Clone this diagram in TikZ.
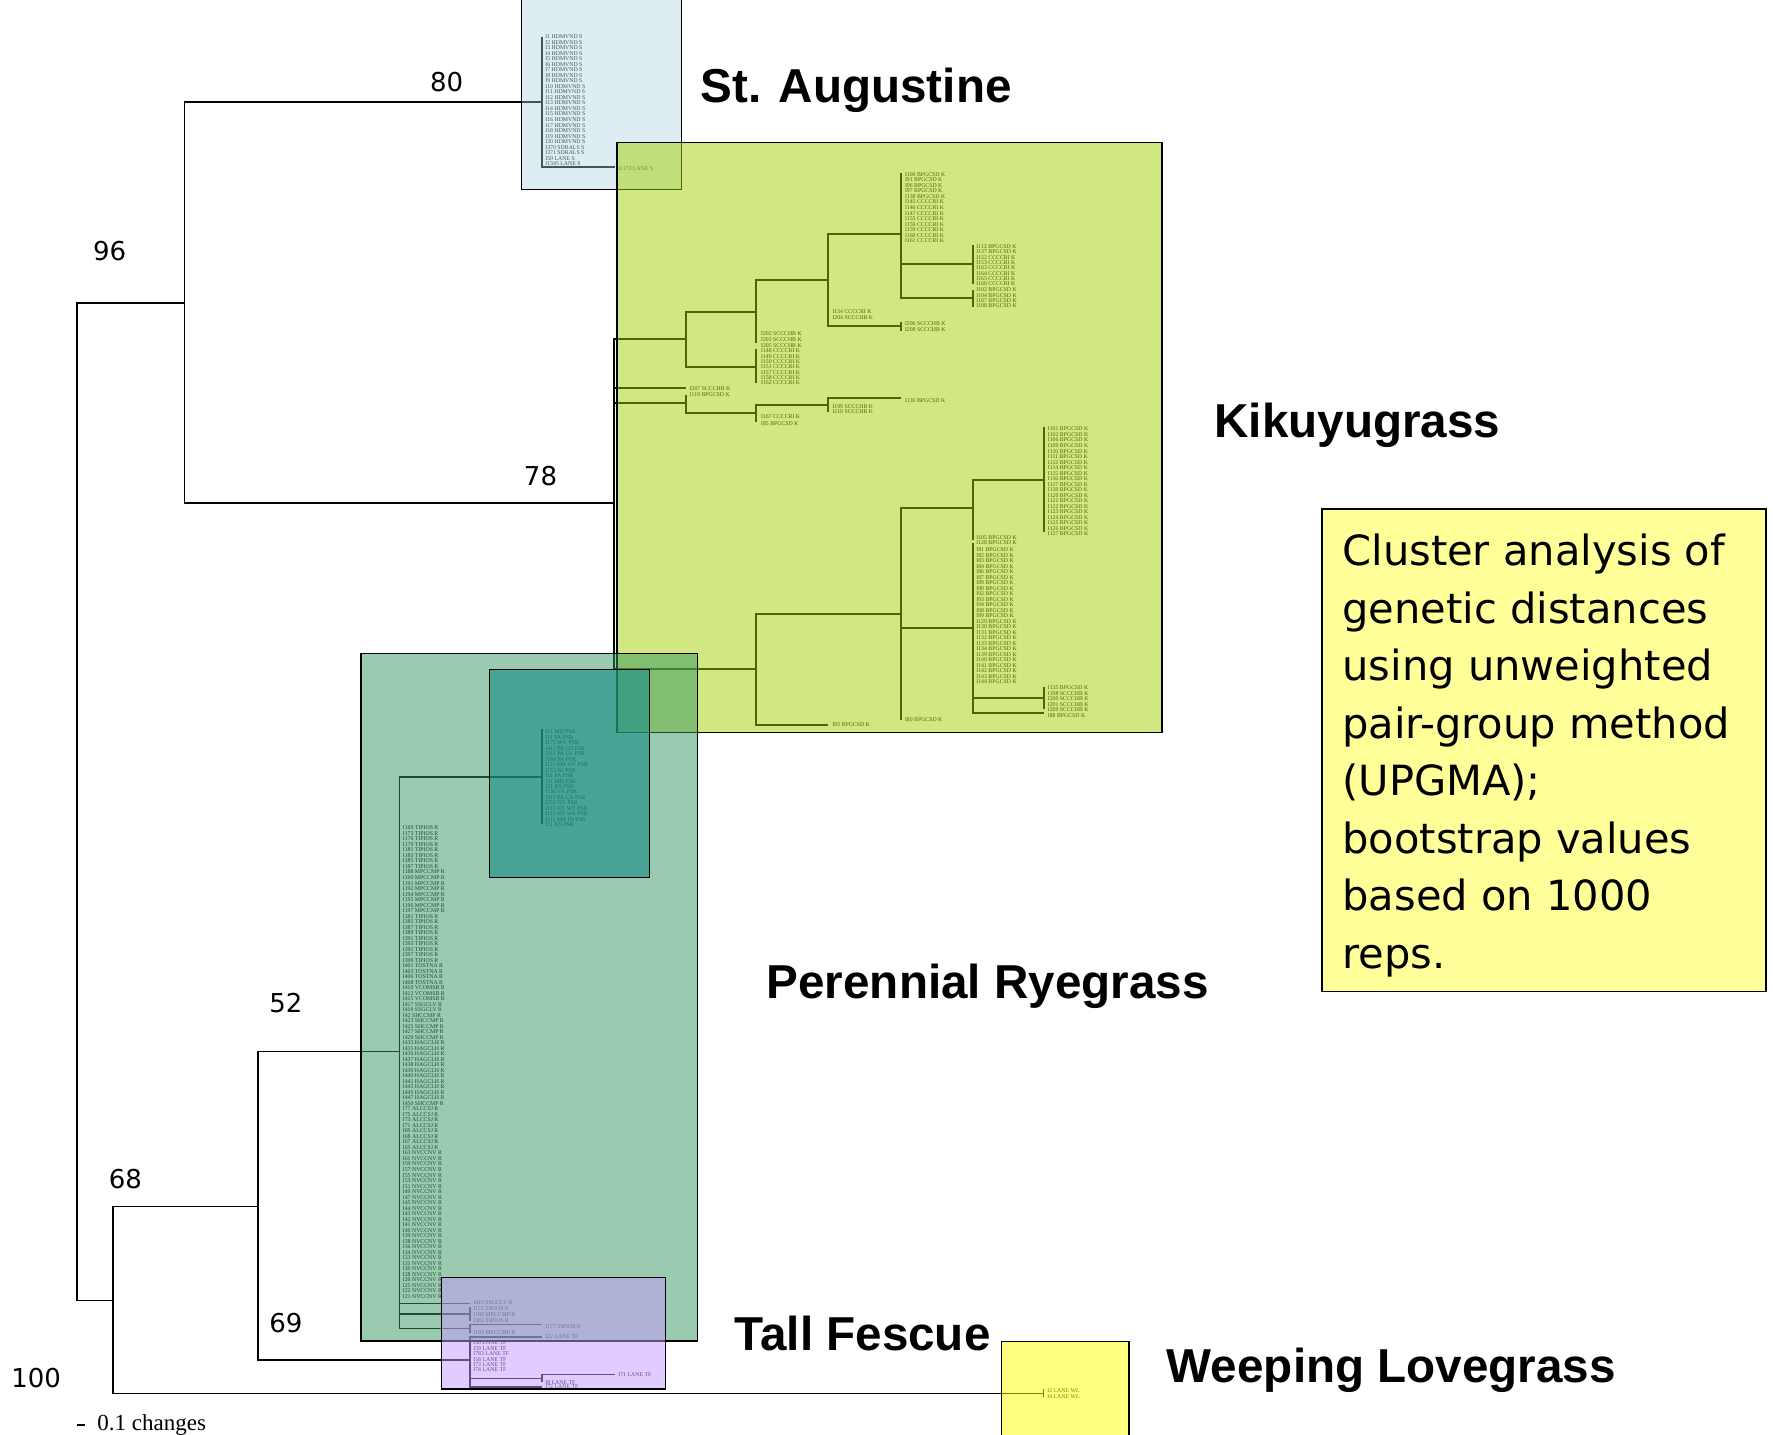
\documentclass[tikz,border=0pt]{standalone}
\usepackage{fontspec}
\setmainfont{Liberation Serif}
\newfontfamily\bootfont{DejaVu Sans}
\newfontfamily\cladefont{Liberation Sans}
\usetikzlibrary{positioning}
\definecolor{AugBlue}{RGB}{170,210,220}
\definecolor{KikuGreen}{RGB}{163,210,0}
\definecolor{RyeGreen}{RGB}{55,151,97}
\definecolor{PsrTeal}{RGB}{22,140,133}
\definecolor{FescueLilac}{RGB}{195,155,255}
\definecolor{LoveYellow}{RGB}{255,255,0}
\definecolor{NoteYellow}{RGB}{255,255,153}
\tikzset{
  branch/.style={line width=0.8pt},
  kbranch/.style={line width=1pt},
  leaf/.style={anchor=west,inner sep=0pt,font=\fontsize{2.9}{2.9}\selectfont},
  boot/.style={font=\bootfont\fontsize{13}{15}\selectfont},
  clade/.style={font=\cladefont\bfseries\fontsize{23.8}{28}\selectfont},
  groupbox/.style={draw=black,line width=0.75pt},
}
\newcommand{\leafcol}[5]{\foreach \lab [count=\i from 0] in {#5} \node[leaf] (#1\i) at (#2,{#3+\i*#4}) {\lab};}

\begin{document}
\begin{tikzpicture}[x=0.5pt,y=-0.5pt]
      \useasboundingbox (0,0) rectangle (1773,1435);
      \fill[white] (0,0) rectangle (1773,1435);
      \draw[branch] (184.3,303) -| (76.9,1300.3) -- (113.1,1300.3);
      \draw[branch] (541.7,101.7) -| (184.3,503) -- (614.3,503);
      \draw[branch] (257.8,1206.5) -| (113.1,1393.3) -- (1043.3,1393.3);
      \draw[branch] (399.3,1051.3) -| (257.8,1360) -- (470,1360);
      \draw[branch] (541.7,36.7) -- (541.7,166.7) -- (615,166.7);
      \leafcol{sa}{545}{36.7}{5.53}{I1 HDMVND S, I2 HDMVND S, I3 HDMVND S, I4 HDMVND S, I5 HDMVND S, I6 HDMVND S, I7 HDMVND S, I8 HDMVND S, I9 HDMVND S, I10 HDMVND S, I11 HDMVND S, I12 HDMVND S, I13 HDMVND S, I14 HDMVND S, I15 HDMVND S, I16 HDMVND S, I17 HDMVND S, I18 HDMVND S, I19 HDMVND S, I20 HDMVND S, I370 SDRALS S, I371 SDRALS S, I50 LANE S, I1345 LANE S}
      \node[leaf] (sa24) at (618,168.3) {I1173 LANE S};
      \draw[kbranch] (685.7,339.3) -| (614.3,669) -- (756.4,669);
      \draw[kbranch] (614.3,388.3) -- (685.7,388.3);
      \draw[kbranch] (614.3,402.7) -- (685.7,402.7);
      \draw[kbranch] (685.7,395) -- (685.7,412.7) -- (756.4,412.7);
      \draw[kbranch] (756.4,311.7) -| (685.7,367.3) -- (756.4,367.3);
      \draw[kbranch] (827.9,280) -| (756.4,343.3);
      \draw[kbranch] (756.4,349) -- (756.4,383);
      \draw[kbranch] (901.1,234.3) -| (827.9,325.7) -- (901.1,325.7);
      \draw[kbranch] (901.1,322) -- (901.1,331);
      \draw[kbranch] (901.1,173.3) -- (901.1,297.7) -- (972.5,297.7);
      \draw[kbranch] (901.1,264.3) -- (972.5,264.3);
      \draw[kbranch] (972.5,245) -- (972.5,284);
      \draw[kbranch] (972.5,290) -- (972.5,306.7);
      \draw[kbranch] (827.9,405) -| (756.4,422);
      \draw[kbranch] (901.1,398.3) -| (827.9,411.7);
      \leafcol{ka}{904.6}{174.3}{5.56}{I100 BPGCSD K, I91 BPGCSD K, I96 BPGCSD K, I97 BPGCSD K, I138 BPGCSD K, I145 CCCCRI K, I146 CCCCRI K, I147 CCCCRI K, I155 CCCCRI K, I156 CCCCRI K, I159 CCCCRI K, I160 CCCCRI K, I161 CCCCRI K}
      \leafcol{kb}{976}{246.7}{5.33}{I113 BPGCSD K, I137 BPGCSD K, I152 CCCCRI K, I153 CCCCRI K, I163 CCCCRI K, I164 CCCCRI K, I165 CCCCRI K, I166 CCCCRI K}
      \leafcol{kc}{976}{290}{5.2}{I102 BPGCSD K, I104 BPGCSD K, I107 BPGCSD K, I108 BPGCSD K}
      \leafcol{kd}{760.7}{334}{6}{I202 SCCCHB K, I203 SCCCHB K, I205 SCCCHB K}
      \leafcol{ke}{760.7}{351}{5.28}{I148 CCCCRI K, I149 CCCCRI K, I150 CCCCRI K, I151 CCCCRI K, I157 CCCCRI K, I158 CCCCRI K, I162 CCCCRI K}
      \leafcol{kf}{832.1}{312}{6}{I154 CCCCRI K, I204 SCCCHB K}
      \leafcol{kg}{904.6}{324}{6}{I206 SCCCHB K, I208 SCCCHB K}
      \leafcol{kh}{689.3}{388.3}{6.7}{I207 SCCCHB K, I119 BPGCSD K}
      \node[leaf] (ki) at (904.6,401) {I136 BPGCSD K};
      \leafcol{kj}{832.1}{406.7}{5}{I199 SCCCHB K, I210 SCCCHB K}
      \leafcol{kk}{760.7}{416.7}{6.6}{I167 CCCCRI K, I85 BPGCSD K}
      \draw[kbranch] (901.1,614.3) -| (756.4,725) -- (827.9,725);
      \draw[kbranch] (972.5,507.7) -| (901.1,720);
      \draw[kbranch] (901.1,628.3) -- (972.5,628.3);
      \draw[kbranch] (1043.9,480) -| (972.5,540);
      \draw[kbranch] (1043.9,426.7) -- (1043.9,531.7);
      \draw[kbranch] (972.5,543) -- (972.5,713.3) -- (1043.9,713.3);
      \draw[kbranch] (972.5,697.7) -- (1043.9,697.7);
      \draw[kbranch] (1043.9,686.7) -- (1043.9,708.7);
      \leafcol{la}{1047.5}{429}{5.53}{I101 BPGCSD K, I102 BPGCSD K, I106 BPGCSD K, I109 BPGCSD K, I110 BPGCSD K, I111 BPGCSD K, I112 BPGCSD K, I114 BPGCSD K, I115 BPGCSD K, I116 BPGCSD K, I117 BPGCSD K, I118 BPGCSD K, I120 BPGCSD K, I121 BPGCSD K, I122 BPGCSD K, I123 BPGCSD K, I124 BPGCSD K, I125 BPGCSD K, I126 BPGCSD K, I127 BPGCSD K}
      \leafcol{lb}{976}{537.7}{5.3}{I105 BPGCSD K, I128 BPGCSD K}
      \leafcol{lc}{976}{550}{5.49}{I81 BPGCSD K, I82 BPGCSD K, I83 BPGCSD K, I84 BPGCSD K, I86 BPGCSD K, I87 BPGCSD K, I89 BPGCSD K, I90 BPGCSD K, I92 BPGCSD K, I93 BPGCSD K, I94 BPGCSD K, I98 BPGCSD K, I99 BPGCSD K, I129 BPGCSD K, I130 BPGCSD K, I131 BPGCSD K, I132 BPGCSD K, I133 BPGCSD K, I134 BPGCSD K, I139 BPGCSD K, I140 BPGCSD K, I141 BPGCSD K, I142 BPGCSD K, I143 BPGCSD K, I144 BPGCSD K}
      \leafcol{ld}{1047.5}{688}{5.5}{I135 BPGCSD K, I198 SCCCHB K, I200 SCCCHB K, I201 SCCCHB K, I209 SCCCHB K}
      \node[leaf] (le) at (1047.5,715.7) {I88 BPGCSD K};
      \node[leaf] (lf) at (904.6,720) {I80 BPGCSD K};
      \node[leaf] (lg) at (832.1,725) {I95 BPGCSD K};
      \draw[branch] (541.7,776.7) -| (399.3,1328.3) -- (470,1328.3);
      \draw[branch] (541.7,729) -- (541.7,824);
      \draw[branch] (399.3,1303.3) -- (470,1303.3);
      \draw[branch] (399.3,1314) -- (470,1314);
      \draw[branch] (470,1307) -- (470,1321);
      \draw[branch] (541.7,1324.3) -| (470,1333);
      \leafcol{ps}{545}{731.7}{5.49}{I11 MD PSR, I11 PA PSR, I175 WV PSR, I411 PA LH PSR, I211 PA UL PSR, I184 PA PSR, I111 MA OV PSR, I153 NJ PSR, I51 PA PSR, I21 MD PSR, I31 KS PSR, I136 VA PSR, I311 PA CA PSR, I253 NY PSR, I111 NY WT PSR, I111 NY WA PSR, I111 MA IN PSR, I21 KS PSR}
      \leafcol{ry}{402.5}{828}{5.51}{I169 TIPIOS R, I173 TIPIOS R, I176 TIPIOS R, I179 TIPIOS R, I181 TIPIOS R, I183 TIPIOS R, I185 TIPIOS R, I187 TIPIOS R, I188 MPCCMP R, I190 MPCCMP R, I191 MPCCMP R, I192 MPCCMP R, I194 MPCCMP R, I195 MPCCMP R, I196 MPCCMP R, I197 MPCCMP R, I381 TIPIOS R, I385 TIPIOS R, I387 TIPIOS R, I389 TIPIOS R, I391 TIPIOS R, I393 TIPIOS R, I395 TIPIOS R, I397 TIPIOS R, I399 TIPIOS R, I401 TOSTNA R, I403 TOSTNA R, I406 TOSTNA R, I408 TOSTNA R, I410 VCOMSB R, I412 VCOMSB R, I415 VCOMSB R, I417 SSGCLV R, I419 SSGCLV R, I42 SHCCMP R, I423 SHCCMP R, I425 SHCCMP R, I427 SHCCMP R, I429 SHCCMP R, I433 HAGCLH R, I435 HAGCLH R, I436 HAGCLH R, I437 HAGCLH R, I438 HAGCLH R, I439 HAGCLH R, I440 HAGCLH R, I441 HAGCLH R, I443 HAGCLH R, I445 HAGCLH R, I447 HAGCLH R, I450 SHCCMP R, I77 ALCCSJ R, I75 ALCCSJ R, I73 ALCCSJ R, I71 ALCCSJ R, I69 ALCCSJ R, I68 ALCCSJ R, I67 ALCCSJ R, I65 ALCCSJ R, I63 NVCCNV R, I61 NVCCNV R, I59 NVCCNV R, I57 NVCCNV R, I55 NVCCNV R, I53 NVCCNV R, I51 NVCCNV R, I49 NVCCNV R, I47 NVCCNV R, I45 NVCCNV R, I44 NVCCNV R, I43 NVCCNV R, I42 NVCCNV R, I41 NVCCNV R, I40 NVCCNV R, I39 NVCCNV R, I38 NVCCNV R, I36 NVCCNV R, I34 NVCCNV R, I33 NVCCNV R, I31 NVCCNV R, I30 NVCCNV R, I28 NVCCNV R, I26 NVCCNV R, I25 NVCCNV R, I22 NVCCNV R, I21 NVCCNV R}
      \leafcol{rz}{473}{1303}{6}{I415 SSGCLV R, I171 TIPIOS R, I189 MPCCMP R, I383 TIPIOS R}
      \node[leaf] (rz4) at (545,1326.7) {I177 TIPIOS R};
      \node[leaf] (rz5) at (473,1332.7) {I193 MPCCMP R};
      \draw[branch] (541.7,1336.7) -| (470,1386.7) -- (541.7,1386.7);
      \draw[branch] (470,1378.3) -- (541.7,1378.3);
      \draw[branch] (615,1374.3) -| (541.7,1382);
      \leafcol{tf}{473}{1343}{5.4}{I30 LANE TF, I59 LANE TF, I783 LANE TF, I58 LANE TF, I73 LANE TF, I74 LANE TF}
      \node[leaf] (tf6) at (545,1337) {I22 LANE TF};
      \node[leaf] (tf7) at (618,1374.3) {I71 LANE TF};
      \node[leaf] (tf8) at (545,1382.7) {I8 LANE TF};
      \node[leaf] (tf9) at (545,1386.5) {I72 LANE TF};
      \draw[branch] (1043.3,1389) -- (1043.3,1397);
      \leafcol{wl}{1047}{1391}{6}{I2 LANE WL, I4 LANE WL}
      \draw[groupbox,fill=AugBlue,fill opacity=0.4] (521.7,-3) rectangle (681.7,189.3);
      \draw[groupbox,fill=KikuGreen,fill opacity=0.49] (617.1,142.3) rectangle (1161.8,732.7);
      \draw[groupbox,fill=RyeGreen,fill opacity=0.5] (361,653.3) rectangle (697.7,1341);
      \draw[groupbox,fill=PsrTeal,fill opacity=0.6] (489.3,669.3) rectangle (649.3,877.7);
      \draw[groupbox,fill=FescueLilac,fill opacity=0.5] (441.7,1277.3) rectangle (665.7,1389);
      \draw[groupbox,fill=LoveYellow,fill opacity=0.5] (1001.7,1341.7) rectangle (1129,1440);
      \node[clade] (aug) at (856,90) {St. Augustine};
      \node[clade] (kiku) at (1357.4,425.7) {Kikuyugrass};
      \node[clade] (rye) at (987.7,986) {Perennial Ryegrass};
      \node[clade] (fescue) at (862.7,1333) {Tall Fescue};
      \node[clade] (love) at (1391.3,1369.8) {Weeping Lovegrass};
      \node[boot] (b80) at (446.6,82.5) {80};
      \node[boot] (b96) at (109.7,251) {96};
      \node[boot] (b78) at (540.5,476) {78};
      \node[boot] (b52) at (286,1003) {52};
      \node[boot] (b68) at (125.5,1179.3) {68};
      \node[boot] (b69) at (286,1323) {69};
      \node[boot] (b100) at (36.2,1378.3) {100};
      \draw[line width=0.75pt] (77,1425) -- (85,1425);
      \node[anchor=west,inner sep=0pt,font=\fontsize{11.5}{13}\selectfont] (scale) at (97,1425) {0.1 changes};
      \draw[line width=0.75pt,fill=NoteYellow] (1321.8,508.8) rectangle (1766.2,991.6);
      \node[anchor=west,align=left,inner sep=0pt,font=\bootfont\fontsize{20.8}{28.75}\selectfont] (note) at (1342,755.4) {Cluster analysis of\\genetic distances\\using unweighted\\pair-group method\\(UPGMA);\\bootstrap values\\based on 1000\\reps.};
    \end{tikzpicture}
\end{document}
